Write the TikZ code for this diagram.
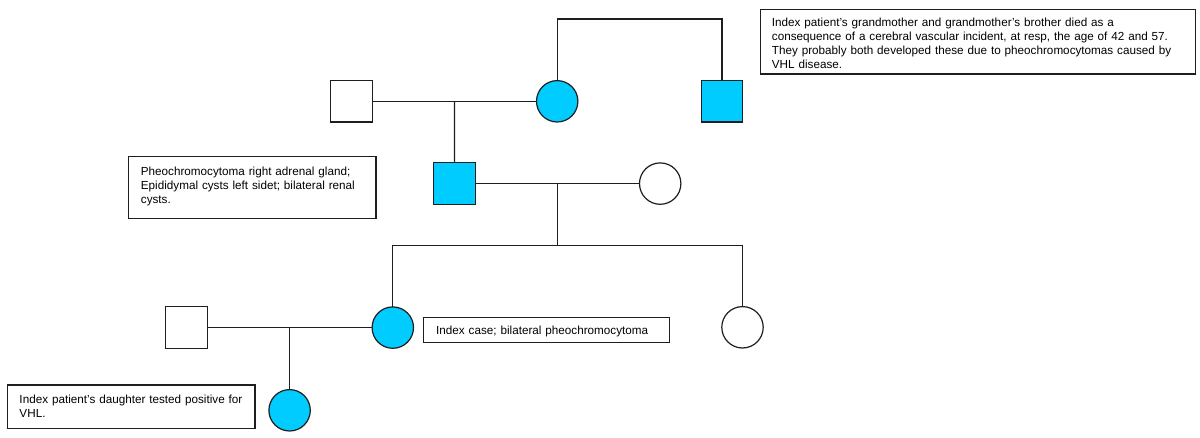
\documentclass[tikz,border=0pt]{standalone}
\usepackage{fontspec}
\setmainfont{Liberation Sans}
\definecolor{vhlcyan}{RGB}{0,204,255}
\definecolor{inkgray}{RGB}{30,30,30}
\newcommand\notefont{\fontsize{11.7}{14}\selectfont}
\begin{document}
\begin{tikzpicture}[x=1pt,y=-1pt,
  line/.style={draw=inkgray, line width=1.2pt},
  person/.style={line, inner sep=0pt, outer sep=0pt},
  male/.style={person, rectangle, minimum size=41.5pt},
  female/.style={person, circle, minimum size=41.4pt},
  affected/.style={fill=vhlcyan},
  unaffected/.style={fill=white},
  notebox/.style={draw=inkgray, line width=1.1pt, rectangle, anchor=north west, inner sep=0pt, outer sep=0pt},
  notetext/.style={anchor=base west, inner sep=0pt, text width=#1, align=left, font=\notefont},
]
\useasboundingbox (0,0) rectangle (1200,438);
\fill[white] (0,0) rectangle (1200,438);

% generation I
\node[male, unaffected] (gf) at (351.5,101.3) {};
\node[female, affected] (gm) at (557.2,101.3) {};
\node[male, affected] (uncle) at (721.9,101.2) {};
% generation II
\node[male, affected] (father) at (454.6,183.6) {};
\node[female, unaffected] (mother) at (660.2,183.6) {};
% generation III
\node[female, affected] (index) at (392.8,327.6) {};
\node[female, unaffected] (sister) at (742.5,327.3) {};
\node[male, unaffected] (husband) at (186.6,327.6) {};
% generation IV
\node[female, affected] (daughter) at (289.6,410.3) {};

% connector points
\coordinate (sibTop) at (721.9,19);
\coordinate (m1) at (454.4,101.3);
\coordinate (m2) at (557.7,183.6);
\coordinate (s2) at (557.7,245.7);
\coordinate (m3) at (289.6,327.6);

% connectors
\draw[line] (gm.north) |- (sibTop) -- (uncle.north);
\draw[line] (gf) -- (gm);
\draw[line] (m1) -- (father.north);
\draw[line] (father) -- (mother);
\draw[line] (m2) -- (s2);
\draw[line] (index.north) |- (s2) -| (sister.north);
\draw[line] (husband) -- (index);
\draw[line] (m3) -- (daughter.north);

% notes
\node[notebox, minimum width=434.5pt, minimum height=64.7pt] (nTop) at (760.7,9.3) {};
\node[notetext=430pt] (tTop) at (771.7,26.7) {Index patient’s grandmother and grandmother’s brother died as a\\consequence of a cerebral vascular incident, at resp, the age of 42 and 57.\\They probably both developed these due to pheochromocytomas caused by\\VHL disease.};

\node[notebox, minimum width=247.7pt, minimum height=61.6pt] (nPheo) at (128.3,156.7) {};
\node[notetext=235pt] (tPheo) at (140.7,175.2) {Pheochromocytoma right adrenal gland;\\Epididymal cysts left sidet; bilateral renal\\cysts.};

\node[notebox, minimum width=246pt, minimum height=24.6pt] (nIndex) at (423.3,317.7) {};
\node[notetext=230pt] (tIndex) at (436,335) {Index case; bilateral pheochromocytoma};

\node[notebox, minimum width=247.7pt, minimum height=43.3pt] (nDaughter) at (7.3,385) {};
\node[notetext=235pt] (tDaughter) at (19.3,403.6) {Index patient’s daughter tested positive for\\VHL.};
\end{tikzpicture}
\end{document}
